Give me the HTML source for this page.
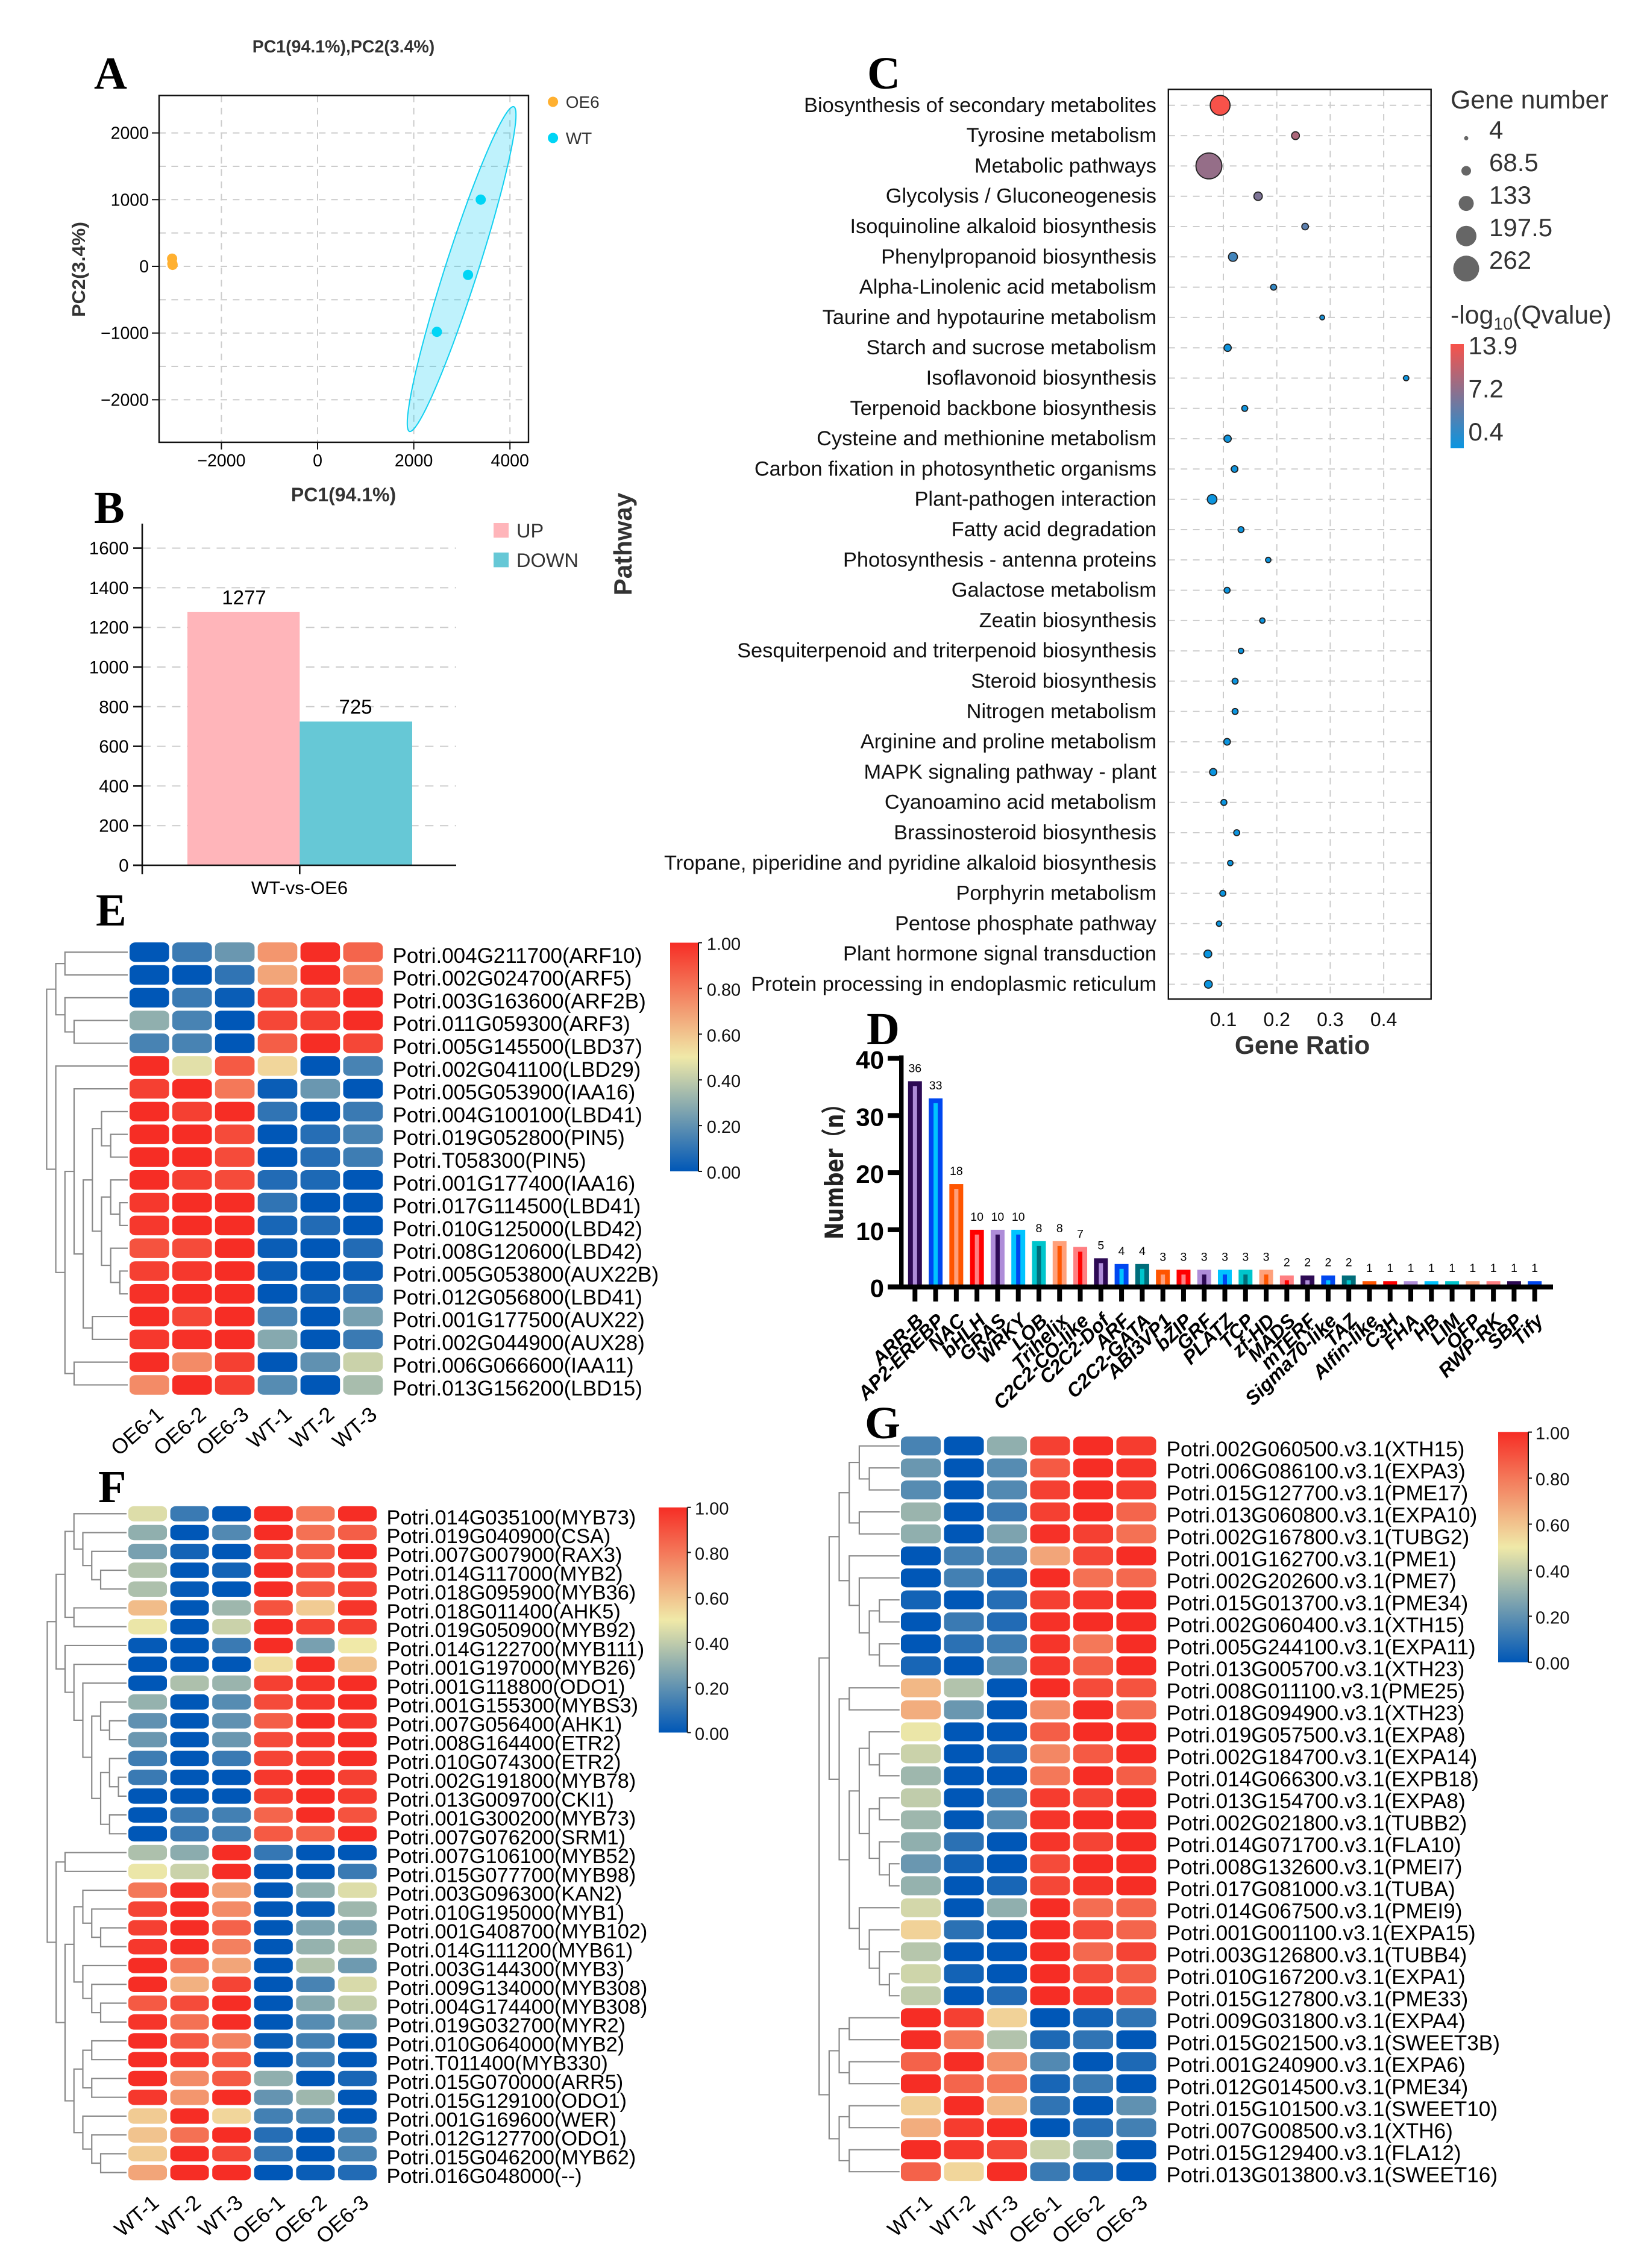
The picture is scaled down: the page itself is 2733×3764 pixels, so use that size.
<!DOCTYPE html>
<html lang="en">
<head>
<meta charset="utf-8">
<title>Transcriptome multi-panel figure</title>
<style>
html,body{margin:0;padding:0;background:#fff;}
svg{display:block;font-family:"Liberation Sans",sans-serif;}
.letter{font-family:"Liberation Serif",serif;font-weight:bold;font-size:76px;fill:#000;}
</style>
</head>
<body>
<svg xmlns="http://www.w3.org/2000/svg" width="2733" height="3764" viewBox="0 0 2733 3764">
<defs>
<linearGradient id="heat-grad" x1="0" y1="1" x2="0" y2="0">
<stop offset="0" stop-color="#0057b7"/><stop offset="0.5" stop-color="#f0e9a8"/><stop offset="1" stop-color="#f62d25"/>
</linearGradient>
<linearGradient id="q-grad" x1="0" y1="1" x2="0" y2="0">
<stop offset="0" stop-color="#0a95e0"/><stop offset="1" stop-color="#f8524a"/>
</linearGradient>
</defs>
<rect x="0" y="0" width="2733" height="3764" fill="#fff"/>

<text class="letter" x="156" y="147">A</text>
<text class="letter" x="156" y="868">B</text>
<text class="letter" x="1439" y="147">C</text>
<text class="letter" x="1438" y="1733">D</text>
<text class="letter" x="159" y="1536">E</text>
<text class="letter" x="163" y="2493">F</text>
<text class="letter" x="1435" y="2387">G</text>

<g id="panel-a">
<text x="570" y="87" font-size="28.5" font-weight="bold" fill="#333" text-anchor="middle">PC1(94.1%),PC2(3.4%)</text>
<text x="570" y="832" font-size="32" font-weight="bold" fill="#333" text-anchor="middle">PC1(94.1%)</text>
<text transform="translate(141,447) rotate(-90)" font-size="31" font-weight="bold" fill="#333" text-anchor="middle" textLength="158" lengthAdjust="spacingAndGlyphs">PC2(3.4%)</text>
</g>

<g id="panel-b">
<text transform="translate(1048,903) rotate(-90)" font-size="42" font-weight="bold" fill="#333" text-anchor="middle">Pathway</text>
</g>

<g id="panel-c">
<text x="2161" y="1749" font-size="42.5" font-weight="bold" fill="#333" text-anchor="middle">Gene Ratio</text>
<text x="2407" y="180" font-size="42.8" fill="#333">Gene number</text>
<text x="2407" y="537" font-size="42.8" fill="#333">-log<tspan font-size="28.5" dy="10">10</tspan><tspan dy="-10">(Qvalue)</tspan></text>
<rect x="2407" y="571" width="22" height="173" fill="url(#q-grad)"/>
</g>

<g id="panel-d">
<text transform="translate(1399,1936) rotate(-90)" font-size="42" font-weight="bold" fill="#222" text-anchor="middle" textLength="242" lengthAdjust="spacingAndGlyphs" style="font-family:'DejaVu Sans','Noto Sans CJK SC',sans-serif">Number（n）</text>
</g>

<g id="panel-e"></g>
<g id="panel-f"></g>
<g id="panel-g"></g>
</svg>

<script>
/* ---------- Panel A data ---------- */
const pcaXTicks = [-2000, 0, 2000, 4000];
const pcaYTicks = [-2000, -1000, 0, 1000, 2000];
const pcaYGrid = [-2000, -1500, -1000, -500, 0, 500, 1000, 1500, 2000];
const pcaOE6 = [[-3025, 115], [-3020, 40], [-3015, 22]];
const pcaWT = [[3392, 1000], [3128, -129], [2481, -982]];
const wtEllipseCenter = [2995, -41];
const wtEllipseMajor = [1084, 2435];
const wtEllipseMinor = [322, -75];

/* ---------- Panel B data ---------- */
const degTicks = [0, 200, 400, 600, 800, 1000, 1200, 1400, 1600];
const degCategory = 'WT-vs-OE6';
const degUp = 1277;
const degDown = 725;

/* ---------- Panel C data ---------- */
const pathways = ['Biosynthesis of secondary metabolites','Tyrosine metabolism','Metabolic pathways','Glycolysis / Gluconeogenesis','Isoquinoline alkaloid biosynthesis','Phenylpropanoid biosynthesis','Alpha-Linolenic acid metabolism','Taurine and hypotaurine metabolism','Starch and sucrose metabolism','Isoflavonoid biosynthesis','Terpenoid backbone biosynthesis','Cysteine and methionine metabolism','Carbon fixation in photosynthetic organisms','Plant-pathogen interaction','Fatty acid degradation','Photosynthesis - antenna proteins','Galactose metabolism','Zeatin biosynthesis','Sesquiterpenoid and triterpenoid biosynthesis','Steroid biosynthesis','Nitrogen metabolism','Arginine and proline metabolism','MAPK signaling pathway - plant','Cyanoamino acid metabolism','Brassinosteroid biosynthesis','Tropane, piperidine and pyridine alkaloid biosynthesis','Porphyrin metabolism','Pentose phosphate pathway','Plant hormone signal transduction','Protein processing in endoplasmic reticulum'];
const geneRatio = [.094,.235,.073,.165,.253,.118,.194,.285,.108,.442,.14,.108,.121,.079,.133,.184,.107,.173,.133,.122,.122,.107,.081,.101,.125,.113,.099,.092,.071,.072];
const geneCount = [190,47,262,54,33,61,25,11,40,18,25,40,33,68,25,18,25,18,18,25,25,33,40,25,25,18,25,18,47,47];
const qValue = [13.9,9.6,8.3,7,5,3.6,2.8,1.2,.7,.7,.7,.7,.7,.5,.5,.5,.4,.4,.4,.4,.4,.4,.4,.4,.4,.4,.4,.4,.4,.4];
const ratioTicks = [.1, .2, .3, .4];
const geneLegend = [4, 68.5, 133, 197.5, 262];
const qLegendLabels = ['13.9', '7.2', '0.4'];

/* ---------- Panel D data ---------- */
const tfFamilies = ['ARR-B','AP2-EREBP','NAC','bHLH','GRAS','WRKY','LOB','Trihelix','C2C2-CO-like','C2C2-Dof','ARF','C2C2-GATA','ABI3VP1','bZIP','GRF','PLATZ','TCP','zf-HD','MADS','mTERF','Sigma70-like','TAZ','Alfin-like','C3H','FHA','HB','LIM','OFP','RWP-RK','SBP','Tify'];
const tfCounts = [36,33,18,10,10,10,8,8,7,5,4,4,3,3,3,3,3,3,2,2,2,2,1,1,1,1,1,1,1,1,1];
const tfTicks = [0, 10, 20, 30, 40];
const tfOuter = ['#2d0a54','#0047f0','#ff5500','#ff0000','#ae8cd8','#00c4ff','#00c5cc','#ffa07a','#ff7f82','#2d0a54','#0047f0','#006d7a','#ff5500','#ff0000','#ae8cd8','#00c4ff','#00c5cc','#ffa07a','#ff7f82','#2d0a54','#0047f0','#006d7a','#ff5500','#ff0000','#ae8cd8','#00c4ff','#00c5cc','#ffa07a','#ff7f82','#2d0a54','#0047f0'];
const tfInner = ['#ae8cd8','#00c4ff','#ffa07a','#ff7f82','#2d0a54','#0047f0','#006d7a','#ff5500','#ff0000','#ae8cd8','#00c4ff','#00c5cc','#ffa07a','#ff7f82','#2d0a54','#0047f0','#006d7a','#ff5500','#ff0000','#ae8cd8','#00c4ff','#00c5cc','#ff5500','#ff0000','#ae8cd8','#00c4ff','#00c5cc','#ffa07a','#ff7f82','#2d0a54','#0047f0'];

/* ---------- Heatmap shared ---------- */
const heatTickLabels = ['0.00','0.20','0.40','0.60','0.80','1.00'];
const heatTickValues = [0, .2, .4, .6, .8, 1];

/* ---------- Panel E data ---------- */
const eSamples = ['OE6-1','OE6-2','OE6-3','WT-1','WT-2','WT-3'];
const eGenes = ['Potri.004G211700(ARF10)','Potri.002G024700(ARF5)','Potri.003G163600(ARF2B)','Potri.011G059300(ARF3)','Potri.005G145500(LBD37)','Potri.002G041100(LBD29)','Potri.005G053900(IAA16)','Potri.004G100100(LBD41)','Potri.019G052800(PIN5)','Potri.T058300(PIN5)','Potri.001G177400(IAA16)','Potri.017G114500(LBD41)','Potri.010G125000(LBD42)','Potri.008G120600(LBD42)','Potri.005G053800(AUX22B)','Potri.012G056800(LBD41)','Potri.001G177500(AUX22)','Potri.002G044900(AUX28)','Potri.006G066600(IAA11)','Potri.013G156200(LBD15)'];
const eValues = [
[0,.12,.22,.72,1,.85],[0,0,.1,.68,1,.78],[0,.12,.02,.93,.95,1],[.3,.15,0,.93,.95,1],[.15,.15,0,.87,1,.93],
[1,.47,.88,.55,0,.15],[.95,1,.8,.02,.22,0],[1,.95,1,.1,0,.12],[1,1,.92,0,.08,.15],[1,1,.92,0,.08,.13],
[1,.95,.92,.07,.06,0],[.97,1,1,.1,0,0],[.97,1,1,.05,.07,0],[.9,.92,1,.02,0,.07],[.95,.97,1,.02,0,.02],
[.99,1,1,0,.03,.08],[1,.93,1,.15,0,.25],[.97,.99,1,.28,0,.12],[1,.75,.95,0,.2,.42],[.75,1,.95,.18,0,.35]];
const eTree = [0,[1,[2,0,1],[2,2,[3,3,4]]],[1,5,[2,[3,6,[4,[5,[6,7,[7,8,9]],[6,[7,10,[8,11,12]],[7,13,[8,14,15]]]],[5,16,17]]],[3,18,19]]]];

/* ---------- Panel F data ---------- */
const fSamples = ['WT-1','WT-2','WT-3','OE6-1','OE6-2','OE6-3'];
const fGenes = ['Potri.014G035100(MYB73)','Potri.019G040900(CSA)','Potri.007G007900(RAX3)','Potri.014G117000(MYB2)','Potri.018G095900(MYB36)','Potri.018G011400(AHK5)','Potri.019G050900(MYB92)','Potri.014G122700(MYB111)','Potri.001G197000(MYB26)','Potri.001G118800(ODO1)','Potri.001G155300(MYBS3)','Potri.007G056400(AHK1)','Potri.008G164400(ETR2)','Potri.010G074300(ETR2)','Potri.002G191800(MYB78)','Potri.013G009700(CKI1)','Potri.001G300200(MYB73)','Potri.007G076200(SRM1)','Potri.007G106100(MYB52)','Potri.015G077700(MYB98)','Potri.003G096300(KAN2)','Potri.010G195000(MYB1)','Potri.001G408700(MYB102)','Potri.014G111200(MYB61)','Potri.003G144300(MYB3)','Potri.009G134000(MYB308)','Potri.004G174400(MYB308)','Potri.019G032700(MYR2)','Potri.010G064000(MYB2)','Potri.T011400(MYB330)','Potri.015G070000(ARR5)','Potri.015G129100(ODO1)','Potri.001G169600(WER)','Potri.012G127700(ODO1)','Potri.015G046200(MYB62)','Potri.016G048000(--)'];
const fValues = [
[.46,.12,0,1,.8,1],[.3,0,.17,1,.82,.87],[.25,.04,0,.95,.87,1],[.37,0,.04,1,.9,.95],[.36,.01,0,1,.88,.94],[.62,0,.33,.9,.58,.98],
[.49,0,.42,1,.94,.95],[.01,0,.12,1,.25,.5],[0,0,0,.53,1,.6],[0,.36,.32,.95,.98,1],[.31,0,.18,.92,.97,1],[.2,0,.2,.87,1,.97],
[.22,0,.22,.92,.97,1],[.13,0,.12,.94,.96,1],[.12,0,0,.97,1,.95],[0,0,0,.95,1,.96],[0,.12,.14,.85,1,.9],[0,.12,.14,.88,.86,1],
[.36,.29,1,.11,0,0],[.49,.42,1,0,0,.12],[.8,1,.7,0,.3,.46],[.94,1,.75,0,.01,.33],[.95,1,.86,0,.26,.26],[.97,1,.78,0,.31,.37],
[1,.8,.68,0,.37,.23],[1,.65,.94,0,.15,.45],[.88,.92,1,0,.28,.41],[.98,.82,1,0,.18,.25],[1,.88,.77,.02,.14,0],[1,.97,.88,0,.13,0],
[1,.75,.88,.3,0,.05],[.97,.72,1,.21,.33,0],[.58,1,.55,.14,.16,0],[.6,.82,1,.08,0,.15],[.58,1,.93,.11,0,.15],[.68,1,1,0,.02,.07]];
const fTree = [0,[1,[2,[3,0,[4,1,[5,2,[6,3,4]]]],[3,5,6]],[2,7,[3,8,[4,9,[5,[6,10,[7,11,12]],[6,[7,13,[8,14,15]],[7,16,17]]]]]]],[1,[2,18,19],[2,[3,[4,20,[5,21,[6,22,23]]],[4,24,[5,25,[6,26,27]]]],[3,[4,[5,28,29],[5,30,31]],[4,32,[5,33,[6,34,35]]]]]]];

/* ---------- Panel G data ---------- */
const gSamples = ['WT-1','WT-2','WT-3','OE6-1','OE6-2','OE6-3'];
const gGenes = ['Potri.002G060500.v3.1(XTH15)','Potri.006G086100.v3.1(EXPA3)','Potri.015G127700.v3.1(PME17)','Potri.013G060800.v3.1(EXPA10)','Potri.002G167800.v3.1(TUBG2)','Potri.001G162700.v3.1(PME1)','Potri.002G202600.v3.1(PME7)','Potri.015G013700.v3.1(PME34)','Potri.002G060400.v3.1(XTH15)','Potri.005G244100.v3.1(EXPA11)','Potri.013G005700.v3.1(XTH23)','Potri.008G011100.v3.1(PME25)','Potri.018G094900.v3.1(XTH23)','Potri.019G057500.v3.1(EXPA8)','Potri.002G184700.v3.1(EXPA14)','Potri.014G066300.v3.1(EXPB18)','Potri.013G154700.v3.1(EXPA8)','Potri.002G021800.v3.1(TUBB2)','Potri.014G071700.v3.1(FLA10)','Potri.008G132600.v3.1(PMEI7)','Potri.017G081000.v3.1(TUBA)','Potri.014G067500.v3.1(PMEI9)','Potri.001G001100.v3.1(EXPA15)','Potri.003G126800.v3.1(TUBB4)','Potri.010G167200.v3.1(EXPA1)','Potri.015G127800.v3.1(PME33)','Potri.009G031800.v3.1(EXPA4)','Potri.015G021500.v3.1(SWEET3B)','Potri.001G240900.v3.1(EXPA6)','Potri.012G014500.v3.1(PME34)','Potri.015G101500.v3.1(SWEET10)','Potri.007G008500.v3.1(XTH6)','Potri.015G129400.v3.1(FLA12)','Potri.013G013800.v3.1(SWEET16)'];
const gValues = [
[.15,0,.3,.95,1,.96],[.22,0,.18,.88,1,.98],[.18,0,.17,.95,1,.96],[.32,0,.12,.95,1,.85],[.3,0,.26,.99,.95,.82],[0,.14,.16,.68,.93,1],
[0,.14,.06,1,.82,.84],[.04,0,.08,.95,.97,1],[0,.12,.07,.99,1,1],[0,.09,.13,.98,.8,1],[.05,0,.2,.97,.87,1],[.63,.37,0,1,.92,.9],
[.66,.22,0,.75,1,.83],[.49,0,0,.87,1,1],[.42,0,.05,.76,.88,1],[.33,0,0,.8,1,.87],[.4,0,.13,.96,.94,1],[.33,0,.17,.98,1,1],
[.3,.09,0,.98,.94,1],[.22,.04,0,.92,1,1],[.31,0,.05,.93,.98,1],[.44,0,.3,1,.83,.85],[.56,.09,0,1,.92,.85],[.38,0,0,1,.84,.94],
[.43,.04,0,1,.92,.87],[.4,0,.07,1,.97,.88],[1,.95,.56,0,.04,.1],[1,.8,.37,.06,.1,0],[.86,1,.74,.17,0,.06],[1,.85,.8,.05,.12,0],
[.57,1,.63,.1,0,.2],[.66,.96,1,0,.08,.14],[1,.97,.93,.42,.3,0],[.86,.55,1,.12,.06,0]];
const gTree = [0,[1,[2,[3,[4,0,[5,1,2]],[4,3,4]],[3,5,[4,6,[5,[6,7,8],[6,9,10]]]]],[2,[3,11,12],[3,[4,[5,13,[6,14,15]],[5,[6,16,17],[6,18,[7,19,20]]]],[4,21,[5,22,[6,23,[7,24,25]]]]]]],[1,[2,[3,26,27],[3,28,29]],[2,[3,30,31],[3,32,33]]]];

/* ---------- Helpers ---------- */
const NS = 'http://www.w3.org/2000/svg';
function add(parent, tag, attrs, text) {
  const e = document.createElementNS(NS, tag);
  for (const k in attrs) e.setAttribute(k, attrs[k]);
  if (text !== undefined) e.textContent = text;
  parent.appendChild(e);
  return e;
}
function mix(a, b, t) {
  return a.map((v, i) => Math.round(v + (b[i] - v) * t));
}
function heatColor(v) {
  const lo = [0, 87, 183], mid = [240, 233, 168], hi = [246, 45, 37];
  const c = v < .5 ? mix(lo, mid, v / .5) : mix(mid, hi, (v - .5) / .5);
  return 'rgb(' + c.join(',') + ')';
}
function qColor(q) {
  const c = mix([10, 149, 224], [248, 82, 74], (q - .4) / 13.5);
  return 'rgb(' + c.join(',') + ')';
}
const GRID = { stroke: '#cccccc', 'stroke-width': 2, 'stroke-dasharray': '11 9.4', fill: 'none' };

/* ---------- Panel A ---------- */
(function () {
  const g = document.getElementById('panel-a');
  const ax = v => 527 + v * 0.0798;
  const ay = v => 442 - v * 0.1107;
  const L = 264, R = 877, T = 158.5, B = 734;
  pcaXTicks.forEach(v => {
    const gl = add(g, 'line', Object.assign({ x1: ax(v), x2: ax(v), y1: T, y2: B }, GRID));
    
    
    const t = add(g, 'line', { x1: ax(v), x2: ax(v), y1: B, y2: B + 12, stroke: '#111', 'stroke-width': 2 });
    
    
    const lb = add(g, 'text', { x: ax(v), y: 774, 'font-size': 28.5, 'text-anchor': 'middle', fill: '#000' }, String(v).replace('-', '\u2212'));
    
    
  });
  pcaYGrid.forEach(v => {
    const gl = add(g, 'line', Object.assign({ x1: L, x2: R, y1: ay(v), y2: ay(v) }, GRID));
    
    
  });
  pcaYTicks.forEach(v => {
    const t = add(g, 'line', { x1: L - 12, x2: L, y1: ay(v), y2: ay(v), stroke: '#111', 'stroke-width': 2 });
    
    
    const lb = add(g, 'text', { x: 247, y: ay(v) + 10, 'font-size': 28.5, 'text-anchor': 'end', fill: '#000' }, String(v).replace('-', '\u2212'));
    
    
  });
  let d = '';
  for (let i = 0; i <= 90; i++) {
    const a = i / 90 * 2 * Math.PI;
    const px = ax(wtEllipseCenter[0] + wtEllipseMajor[0] * Math.cos(a) + wtEllipseMinor[0] * Math.sin(a));
    const py = ay(wtEllipseCenter[1] + wtEllipseMajor[1] * Math.cos(a) + wtEllipseMinor[1] * Math.sin(a));
    d += (i ? 'L' : 'M') + px.toFixed(1) + ' ' + py.toFixed(1);
  }
  const el = add(g, 'path', { d: d + 'Z', fill: 'rgba(0,205,245,0.25)', stroke: '#12d0f0', 'stroke-width': 2 });
  
  
  pcaOE6.forEach(p => {
    const c = add(g, 'circle', { cx: ax(p[0]), cy: ay(p[1]), r: 8.5, fill: '#ffb030' });
    
    
  });
  pcaWT.forEach(p => {
    const c = add(g, 'circle', { cx: ax(p[0]), cy: ay(p[1]), r: 8.5, fill: '#00d5f5' });
    
    
  });
  const fr = add(g, 'rect', { x: L, y: T, width: R - L, height: B - T, fill: 'none', stroke: '#111', 'stroke-width': 2.4 });
  
  
  const l1 = add(g, 'circle', { cx: 917.6, cy: 169, r: 8.5, fill: '#ffb030' });
  
  
  const l2 = add(g, 'text', { x: 938.7, y: 179, 'font-size': 28, fill: '#333' }, 'OE6');
  
  
  const l3 = add(g, 'circle', { cx: 917.6, cy: 229, r: 8.5, fill: '#00d5f5' });
  
  
  const l4 = add(g, 'text', { x: 938.7, y: 239, 'font-size': 28, fill: '#333' }, 'WT');
  
  
})();

/* ---------- Panel B ---------- */
(function () {
  const g = document.getElementById('panel-b');
  const by = v => 1436 - v * 0.329;
  degTicks.forEach(v => {
    if (v > 0) {
      const gl = add(g, 'line', { x1: 236, x2: 757, y1: by(v), y2: by(v), stroke: '#cccccc', 'stroke-width': 2, 'stroke-dasharray': '14 10.7' });
      
      
    }
    const t = add(g, 'line', { x1: 221, x2: 236, y1: by(v), y2: by(v), stroke: '#111', 'stroke-width': 2.6 });
    
    
    const lb = add(g, 'text', { x: 213.5, y: by(v) + 10.5, 'font-size': 29.5, 'text-anchor': 'end', fill: '#000' }, String(v));
    
    
  });
  const up = add(g, 'rect', { x: 311, y: by(degUp), width: 186.3, height: 1436 - by(degUp), fill: '#ffb5ba' });
  
  
  const dn = add(g, 'rect', { x: 497.3, y: by(degDown), width: 186.7, height: 1436 - by(degDown), fill: '#66c8d6' });
  
  
  const u2 = add(g, 'text', { x: 405, y: by(degUp) - 13, 'font-size': 33, 'text-anchor': 'middle', fill: '#000' }, String(degUp));
  
  
  const d2 = add(g, 'text', { x: 590, y: by(degDown) - 13, 'font-size': 33, 'text-anchor': 'middle', fill: '#000' }, String(degDown));
  
  
  const ya = add(g, 'line', { x1: 236, x2: 236, y1: 869, y2: 1451, stroke: '#111', 'stroke-width': 2.6 });
  
  
  const xa = add(g, 'line', { x1: 221, x2: 757, y1: 1436, y2: 1436, stroke: '#111', 'stroke-width': 2.6 });
  
  
  const xt = add(g, 'line', { x1: 497.3, x2: 497.3, y1: 1436, y2: 1451, stroke: '#111', 'stroke-width': 2.6 });
  
  
  const xl = add(g, 'text', { x: 497, y: 1484, 'font-size': 31, 'text-anchor': 'middle', fill: '#000' }, degCategory);
  
  
  const s1 = add(g, 'rect', { x: 819, y: 868, width: 25, height: 24.4, fill: '#ffb5ba' });
  
  
  const t1 = add(g, 'text', { x: 857, y: 892, 'font-size': 32.5, fill: '#333' }, 'UP');
  
  
  const s2 = add(g, 'rect', { x: 819, y: 917, width: 25, height: 24.4, fill: '#66c8d6' });
  
  
  const t2 = add(g, 'text', { x: 857, y: 941, 'font-size': 32.5, fill: '#333' }, 'DOWN');
  
  
})();

/* ---------- Panel C ---------- */
(function () {
  const g = document.getElementById('panel-c');
  const gx = v => 1941.3 + v * 887;
  const gy = i => 174.8 + i * 50.3;
  const gr = n => 3.5 + (n - 4) * 18 / 258;
  const L = 1938.8, R = 2374.7, T = 148.3, B = 1658;
  ratioTicks.forEach(v => {
    const gl = add(g, 'line', Object.assign({ x1: gx(v), x2: gx(v), y1: T, y2: B }, GRID));
    
    
    const lb = add(g, 'text', { x: gx(v), y: 1703, 'font-size': 32, 'text-anchor': 'middle', fill: '#111' }, v.toFixed(1));
    
    
  });
  pathways.forEach((name, i) => {
    const gl = add(g, 'line', Object.assign({ x1: L, x2: R, y1: gy(i), y2: gy(i) }, GRID));
    
    
    const lb = add(g, 'text', { x: 1919, y: gy(i) + 11, 'font-size': 34.4, 'text-anchor': 'end', fill: '#111' }, name);
    
    
  });
  pathways.forEach((name, i) => {
    const c = add(g, 'circle', { cx: gx(geneRatio[i]), cy: gy(i), r: gr(geneCount[i]), fill: qColor(qValue[i]), stroke: '#222', 'stroke-width': 1.8 });
    
    
  });
  const fr = add(g, 'rect', { x: L, y: T, width: R - L, height: B - T, fill: 'none', stroke: '#111', 'stroke-width': 2.4 });
  
  
  geneLegend.forEach((n, i) => {
    const c = add(g, 'circle', { cx: 2433, cy: 229.4 + i * 54.1, r: gr(n), fill: '#666' });
    
    
    const t = add(g, 'text', { x: 2471, y: 230 + i * 54, 'font-size': 42, fill: '#333' }, String(n));
    
    
  });
  qLegendLabels.forEach((s, i) => {
    const t = add(g, 'text', { x: 2436.5, y: 588 + i * 71.5, 'font-size': 42, fill: '#333' }, s);
    
    
  });
})();

/* ---------- Panel D ---------- */
(function () {
  const g = document.getElementById('panel-d');
  const dx = i => 1518.3 + i * 34.28;
  const dy = v => 2135.7 - v * 9.48;
  tfTicks.forEach(v => {
    const t = add(g, 'rect', { x: 1473, y: dy(v) - 4, width: 22, height: 8, fill: '#000' });
    
    
    const lb = add(g, 'text', { x: 1467, y: dy(v) + 17, 'font-size': 42, 'font-weight': 'bold', 'text-anchor': 'end', fill: '#000' }, String(v));
    
    
  });
  tfFamilies.forEach((name, i) => {
    const x = dx(i), top = dy(tfCounts[i]);
    const o = add(g, 'rect', { x: x - 11.5, y: top, width: 23, height: 2132 - top, fill: tfOuter[i] });
    
    
    if (top + 8 < 2132) {
      const s = add(g, 'rect', { x: x - 3.5, y: top + 8, width: 7, height: 2132 - top - 8, fill: tfInner[i] });
      
      
    }
    const v = add(g, 'text', { x: x, y: top - 15, 'font-size': 19.5, 'text-anchor': 'middle', fill: '#000' }, String(tfCounts[i]));
    
    
    const t = add(g, 'rect', { x: x - 4, y: 2136, width: 8, height: 24, fill: '#000' });
    
    
    const lb = add(g, 'text', { transform: 'translate(' + (x + 16) + ',2194) rotate(-45)', 'font-size': 32.5, 'font-weight': 'bold', 'font-style': 'italic', 'text-anchor': 'end', fill: '#000' }, name);
    
    
  });
  const ya = add(g, 'rect', { x: 1492, y: 1751.5, width: 7.4, height: 388, fill: '#000' });
  
  
  const xa = add(g, 'rect', { x: 1473, y: 2131.7, width: 1104, height: 8.3, fill: '#000' });
  
  
})();

/* ---------- Heatmaps ---------- */
function drawHeatmap(id, cfg, samples, genes, values, tree) {
  const g = document.getElementById(id);
  const cx = j => cfg.x0 + j * cfg.stepX;
  const cy = i => cfg.y0 + i * cfg.stepY;
  const levelX = k => cfg.treeX + k * cfg.treeStep;
  let d = '';
  function walk(node) {
    if (typeof node === 'number') return { x: cfg.leafX, y: cy(node) + cfg.h / 2 };
    const X = levelX(node[0]);
    const a = walk(node[1]), b = walk(node[2]);
    d += 'M' + a.x + ' ' + a.y + 'H' + X + 'V' + b.y + 'H' + b.x;
    return { x: X, y: (a.y + b.y) / 2 };
  }
  walk(tree);
  const tr = add(g, 'path', { d: d, fill: 'none', stroke: '#8a8a8a', 'stroke-width': 2.2 });
  
  
  values.forEach((row, i) => {
    row.forEach((v, j) => {
      const c = add(g, 'rect', { x: cx(j), y: cy(i), width: cfg.w, height: cfg.h, rx: 10, ry: 8, fill: heatColor(v) });
      
      
    });
    const lb = add(g, 'text', { x: cfg.textX, y: cy(i) + cfg.h / 2 + 17.5, 'font-size': cfg.fs, fill: '#000' }, genes[i]);
    
    
  });
  samples.forEach((s, j) => {
    const ex = cx(j) + cfg.w / 2 + cfg.labelDx;
    const t = add(g, 'text', { transform: 'translate(' + ex + ',' + cfg.labelY + ') rotate(-41)', 'font-size': 35, 'text-anchor': 'end', fill: '#000' }, s);
    
    
  });
  const bar = add(g, 'rect', { x: cfg.barX, y: cfg.barTop, width: cfg.barW, height: cfg.barBottom - cfg.barTop, fill: 'url(#heat-grad)' });
  
  
  const ax = add(g, 'line', { x1: cfg.barX + cfg.barW, x2: cfg.barX + cfg.barW, y1: cfg.barTop, y2: cfg.barBottom, stroke: '#111', 'stroke-width': 2 });
  
  
  heatTickValues.forEach((v, i) => {
    const y = cfg.barBottom - v * (cfg.barBottom - cfg.barTop);
    const t = add(g, 'line', { x1: cfg.barX + cfg.barW, x2: cfg.barX + cfg.barW + 6, y1: y, y2: y, stroke: '#111', 'stroke-width': 2 });
    
    
    const lb = add(g, 'text', { x: cfg.barLabelX, y: y + 12, 'font-size': 29, fill: '#111' }, heatTickLabels[i]);
    
    
  });
}
drawHeatmap('panel-e', { x0: 215, y0: 1564, stepX: 70.9, stepY: 37.8, w: 65.6, h: 32.5, textX: 651.5, fs: 35, treeX: 77.4, treeStep: 15.18, leafX: 212, labelDx: 25.5, labelY: 2351, barX: 1112, barW: 47, barTop: 1564.5, barBottom: 1944, barLabelX: 1172.7 }, eSamples, eGenes, eValues, eTree);
drawHeatmap('panel-f', { x0: 213, y0: 2499.5, stepX: 69.6, stepY: 31.24, w: 64, h: 25.5, textX: 641.5, fs: 34.3, treeX: 78.4, treeStep: 14.77, leafX: 210, labelDx: 21, labelY: 3659, barX: 1093, barW: 47.6, barTop: 2501.7, barBottom: 2875.4, barLabelX: 1153 }, fSamples, fGenes, fValues, fTree);
drawHeatmap('panel-g', { x0: 1495, y0: 2384, stepX: 71.5, stepY: 36.5, w: 66, h: 31.4, textX: 1935.5, fs: 35.2, treeX: 1359.2, treeStep: 16.67, leafX: 1492.7, labelDx: 21, labelY: 3659, barX: 2486, barW: 50, barTop: 2376.7, barBottom: 2758.7, barLabelX: 2548 }, gSamples, gGenes, gValues, gTree);
</script>
</body>
</html>
